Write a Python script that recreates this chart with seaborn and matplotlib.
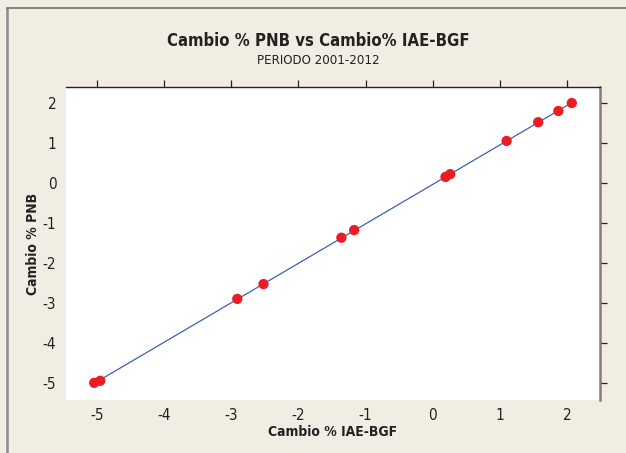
import numpy as np
import pandas as pd
import matplotlib
matplotlib.use("Agg")
import matplotlib.pyplot as plt
from matplotlib.lines import Line2D
import seaborn as sns

# Datos (cambio % anual)
cambio_iae_bgf = [-5.04, -4.95, -2.91, -2.52, -1.36, -1.17, 0.19, 0.26, 1.10, 1.57, 1.87, 2.07]
cambio_pnb = [-5.00, -4.95, -2.90, -2.53, -1.37, -1.18, 0.15, 0.22, 1.05, 1.52, 1.80, 2.00]
x_ticks = [-5, -4, -3, -2, -1, 0, 1, 2]
y_ticks = [-5, -4, -3, -2, -1, 0, 1, 2]

df = pd.DataFrame({"iae": cambio_iae_bgf, "pnb": cambio_pnb})

sns.set_style("white")
plt.rcParams["font.family"] = ["DejaVu Sans"]
plt.rcParams["font.stretch"] = "condensed"

fondo = "#F1EDE3"
fig = plt.figure(figsize=(6.26, 4.53), dpi=100, facecolor=fondo)
ax = fig.add_axes([66 / 626, 53 / 453, 534 / 626, 313 / 453])
ax.set_facecolor("white")

sns.regplot(data=df, x="iae", y="pnb", ax=ax, scatter=False, ci=None,
            line_kws={"color": "#3F5FB8", "lw": 0.9})
sns.scatterplot(data=df, x="iae", y="pnb", ax=ax, color="#EC1C24",
                s=55, edgecolor="none", zorder=3)

ax.set_xlim(-5.46, 2.49)
ax.set_ylim(-5.43, 2.4)
ax.set_xticks(x_ticks)
ax.set_yticks(y_ticks)
ax.set_xticklabels([str(v) for v in x_ticks])
ax.set_yticklabels([str(v) for v in y_ticks])

ax.tick_params(axis="x", bottom=False, top=True, labelbottom=True, labeltop=False,
               direction="out", length=5, width=0.9, color="#222222",
               labelsize=11, pad=0.5, labelcolor="#222222")
ax.tick_params(axis="y", left=False, right=True, labelleft=True, labelright=False,
               direction="out", length=5, width=0.9, color="#222222",
               labelsize=11, pad=2, labelcolor="#222222")

for lado in ["left", "bottom"]:
    ax.spines[lado].set_visible(False)
ax.spines["top"].set_color("#222222")
ax.spines["top"].set_linewidth(1.0)
ax.spines["right"].set_color("#7F7F7F")
ax.spines["right"].set_linewidth(1.8)

ax.set_xlabel("Cambio % IAE-BGF", fontsize=10, fontweight="bold", color="#222222", va="center")
ax.set_ylabel("Cambio % PNB", fontsize=10, fontweight="bold", color="#222222", va="center")
ax.xaxis.set_label_coords(0.5, -32 / 313)
ax.yaxis.set_label_coords(-33 / 534, 0.5)

fig.text(318 / 626, 1 - 41 / 453, "Cambio % PNB vs Cambio% IAE-BGF", ha="center", va="center",
         fontsize=12, fontweight="bold", color="#222222")
fig.text(318 / 626, 1 - 60 / 453, "PERIODO 2001-2012", ha="center", va="center",
         fontsize=9.5, color="#222222")

# marco exterior
fig.add_artist(Line2D([7 / 626, 7 / 626], [0, 1 - 8 / 453], transform=fig.transFigure,
                      color="#8A8A8A", lw=1.8))
fig.add_artist(Line2D([7 / 626, 1], [1 - 8 / 453, 1 - 8 / 453], transform=fig.transFigure,
                      color="#6E6E6E", lw=1.2))

fig.savefig("out.png", dpi=100, facecolor=fondo)
